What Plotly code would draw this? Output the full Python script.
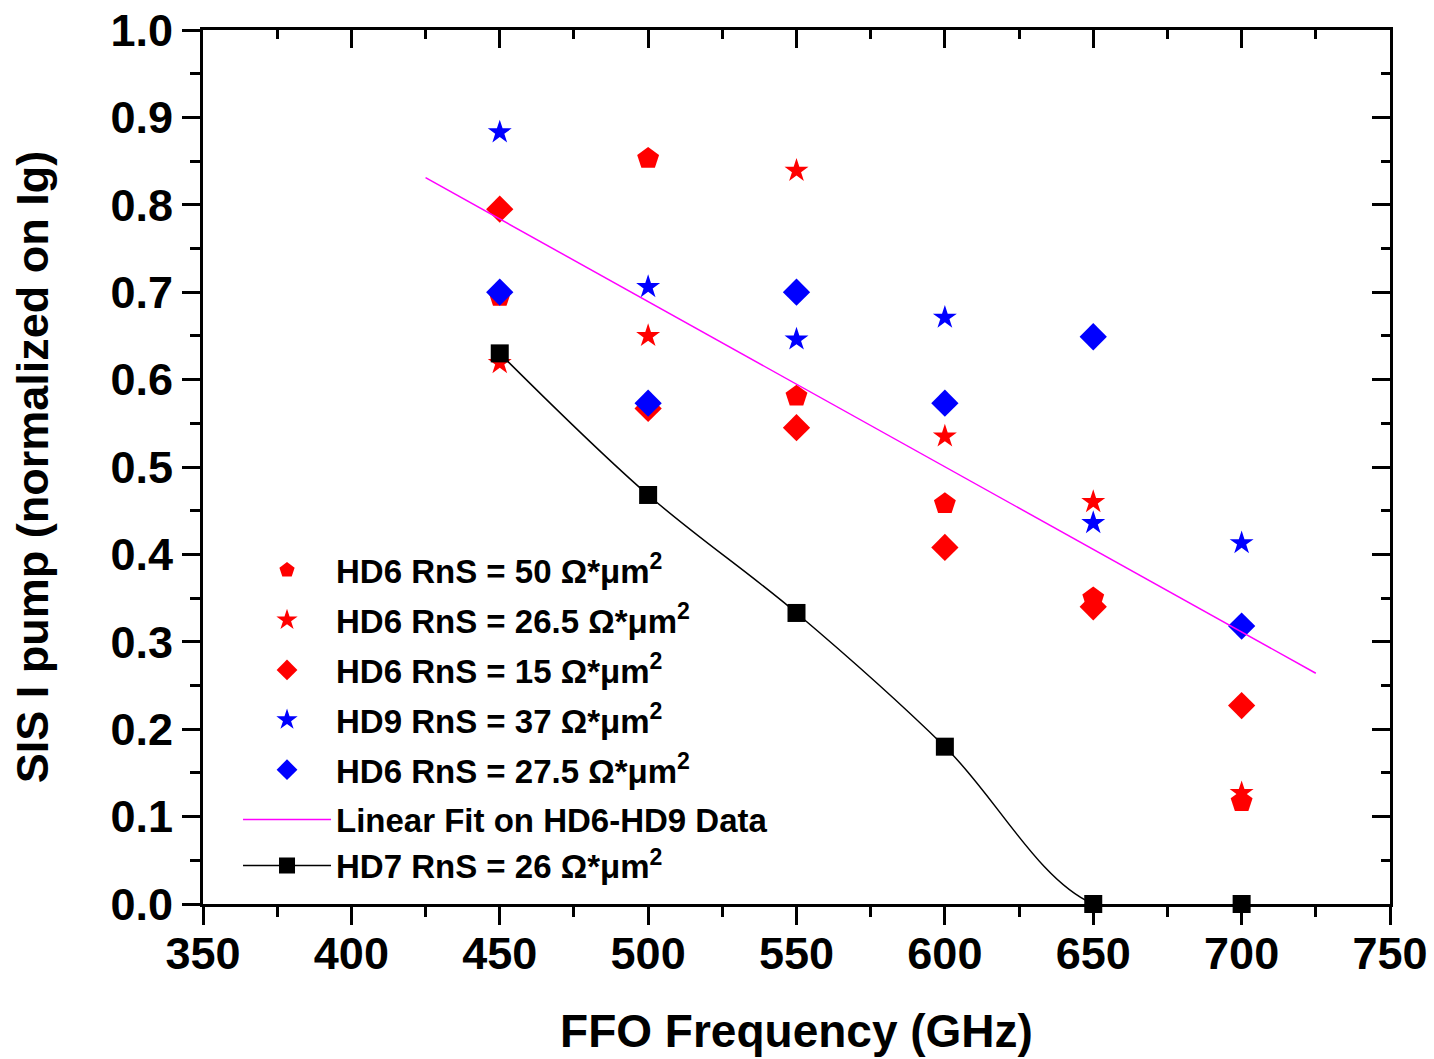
import plotly.graph_objects as go

freq = [450, 500, 550, 600, 650, 700]

hd6_50 = [0.695, 0.853, 0.581, 0.458, 0.350, 0.117]
hd6_265 = [0.619, 0.650, 0.839, 0.535, 0.460, 0.127]
hd6_15 = [0.795, 0.567, 0.545, 0.408, 0.340, 0.227]
hd9_37 = [0.883, 0.706, 0.646, 0.671, 0.436, 0.413]
hd6_275 = [0.700, 0.573, 0.700, 0.573, 0.649, 0.318]
hd7_26 = [0.630, 0.468, 0.333, 0.180, 0.0, 0.0]

fit_x = [425, 725]
fit_y = [0.831, 0.264]

FONT = "Arial, Liberation Sans, sans-serif"
unit = " Ω*μm<sup>2</sup>"

fig = go.Figure()

def pts(y, name, symbol, color, size, grp):
    fig.add_trace(go.Scatter(
        x=freq, y=y, mode="markers", name=name, legendgroup=grp,
        marker=dict(symbol=symbol, color=color, size=size, line=dict(width=0)),
        cliponaxis=False))

pts(hd6_50, "HD6 RnS = 50" + unit, "pentagon", "#FF0000", 23, "g1")
pts(hd6_265, "HD6 RnS = 26.5" + unit, "star", "#FF0000", 18, "g2")
pts(hd6_15, "HD6 RnS = 15" + unit, "diamond", "#FF0000", 21, "g3")
pts(hd9_37, "HD9 RnS = 37" + unit, "star", "#0000FF", 18, "g4")
pts(hd6_275, "HD6 RnS = 27.5" + unit, "diamond", "#0000FF", 21, "g5")

fig.add_trace(go.Scatter(
    x=fit_x, y=fit_y, mode="lines", name="Linear Fit on HD6-HD9 Data",
    legendgroup="g6",
    line=dict(color="#FF00FF", width=1.5)))

fig.add_trace(go.Scatter(
    x=freq, y=hd7_26, mode="lines+markers", name="HD7 RnS = 26" + unit,
    legendgroup="g6",
    line=dict(color="black", width=1.5, shape="spline", smoothing=1.0),
    marker=dict(symbol="square", color="black", size=18),
    cliponaxis=False))

axis_common = dict(
    showline=True, linecolor="black", linewidth=3,
    showgrid=False, zeroline=False, automargin=False,
    tickcolor="black", tickwidth=3, ticklen=18,
    tickfont=dict(family=FONT, size=45, color="black", weight="bold"),
)

fig.update_layout(
    width=1434, height=1059,
    margin=dict(l=203, r=44, t=30, b=155),
    paper_bgcolor="white", plot_bgcolor="white",
    showlegend=True,
    legend=dict(
        x=0.0295, y=0.414, xanchor="left", yanchor="top",
        bgcolor="rgba(0,0,0,0)", borderwidth=0,
        font=dict(family=FONT, size=33, color="black", weight="bold"),
        itemwidth=88, tracegroupgap=4,
    ),
    xaxis=dict(
        range=[350, 750], dtick=50, tick0=350, ticks="outside",
        ticklabelstandoff=-10,
        minor=dict(ticks="outside", ticklen=10, tickwidth=3, tickcolor="black", dtick=25),
        title=dict(text="FFO Frequency (GHz)", standoff=37,
                   font=dict(family=FONT, size=46, color="black", weight="bold")),
        **axis_common),
    yaxis=dict(
        range=[0, 1], dtick=0.1, tick0=0, ticks="outside", tickformat=".1f",
        minor=dict(ticks="outside", ticklen=10, tickwidth=3, tickcolor="black", dtick=0.05),
        title=dict(text="SIS I pump (normalized on Ig)", standoff=48,
                   font=dict(family=FONT, size=45, color="black", weight="bold")),
        **axis_common),
    xaxis2=dict(
        overlaying="x", side="top", range=[350, 750], dtick=50, tick0=350,
        ticks="inside", ticklen=18, tickwidth=3, tickcolor="black",
        minor=dict(ticks="inside", ticklen=9, tickwidth=3, tickcolor="black", dtick=25),
        showticklabels=False, showline=True, linecolor="black", linewidth=3,
        showgrid=False, zeroline=False, automargin=False),
    yaxis2=dict(
        overlaying="y", side="right", range=[0, 1], dtick=0.1, tick0=0,
        ticks="inside", ticklen=18, tickwidth=3, tickcolor="black",
        minor=dict(ticks="inside", ticklen=9, tickwidth=3, tickcolor="black", dtick=0.05),
        showticklabels=False, showline=True, linecolor="black", linewidth=3,
        showgrid=False, zeroline=False, automargin=False),
)

# invisible trace to activate the mirrored axes
fig.add_trace(go.Scatter(x=[350], y=[0], xaxis="x2", yaxis="y2", mode="markers",
                         marker=dict(opacity=0), showlegend=False, hoverinfo="skip"))

fig.write_html("out.html")
